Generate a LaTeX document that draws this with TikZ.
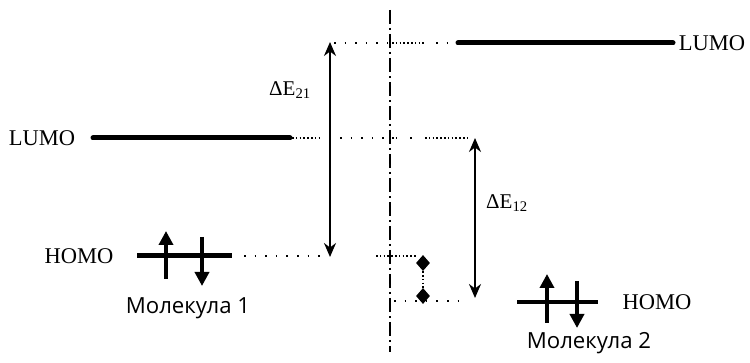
\documentclass[tikz,border=0pt]{standalone}
\usepackage{fontspec}
\setmainfont{Liberation Serif}
\newfontfamily\cyrfont{Open Sans}
\usetikzlibrary{arrows.meta,shapes.geometric}
\tikzset{
  level/.style={line width=5pt, line cap=round},
  elec/.style={line width=4.4pt, -{Triangle[length=14pt,width=14pt]}},
  gap/.style={line width=2pt, {Stealth[length=14pt,width=12pt]}-{Stealth[length=14pt,width=12pt]}},
  axis/.style={line width=2pt, dash pattern=on 14pt off 4pt on 2pt off 4pt},
  dense/.style={line width=1.6pt, dash pattern=on 1.6pt off 2.2pt},
  sparse/.style={line width=1.6pt, dash pattern=on 1.6pt off 9pt},
  lbl/.style={font=\fontsize{22.5}{26}\selectfont, inner sep=0pt},
  dlbl/.style={font=\fontsize{21}{25}\selectfont, inner sep=0pt},
  mol/.style={font=\cyrfont\fontsize{22.2}{26}\selectfont, inner sep=0pt},
  dia/.style={diamond, fill=black, inner sep=0pt, minimum width=14pt, minimum height=16pt}
}
\begin{document}
\begin{tikzpicture}[x=1pt,y=-1pt]
\useasboundingbox (0,0) rectangle (750,363);
% coordinates
\coordinate (L1a) at (93,138);  \coordinate (L1b) at (290,138);
\coordinate (L2a) at (458,43);  \coordinate (L2b) at (673,43);
\coordinate (H1a) at (137,256); \coordinate (H1b) at (232,256);
\coordinate (H2a) at (517,302); \coordinate (H2b) at (598,302);
\coordinate (Atop) at (390,10); \coordinate (Abot) at (390,352);
\coordinate (G1t) at (330,42);  \coordinate (G1b) at (330,257);
\coordinate (G2t) at (475,138); \coordinate (G2b) at (475,298);
% axis
\draw[axis] (Atop) -- (Abot);
% levels
\draw[level] (L1a) -- (L1b);
\draw[level] (L2a) -- (L2b);
\draw[level, line cap=butt] (H1a) -- (H1b);
\draw[level, line cap=butt, line width=4pt] (H2a) -- (H2b);
% labels
\node[lbl] (lumo1) at (42,138) {LUMO};
\node[lbl] (lumo2) at (712,43) {LUMO};
\node[lbl] (homo1) at (79,256) {HOMO};
\node[lbl] (homo2) at (657,302) {HOMO};
\node[dlbl] (de21) at (290,90) {ΔE\textsubscript{21}};
\node[dlbl] (de12) at (507,203) {ΔE\textsubscript{12}};
\node[mol] (m1) at (188,308) {Молекула 1};
\node[mol] (m2) at (589,343) {Молекула 2};
% electrons
\coordinate (e1s) at (166,279); \coordinate (e1e) at (166,231);
\coordinate (e2s) at (202,237); \coordinate (e2e) at (202,286);
\coordinate (e3s) at (547,323); \coordinate (e3e) at (547,274);
\coordinate (e4s) at (577,281); \coordinate (e4e) at (577,328);
\draw[elec] (e1s) -- (e1e);
\draw[elec] (e2s) -- (e2e);
\draw[elec] (e3s) -- (e3e);
\draw[elec] (e4s) -- (e4e);
% gaps
\draw[gap] (G1t) -- (G1b);
\draw[gap] (G2t) -- (G2b);
% dotted guides
\draw[sparse] (334,43) -- (388,43);
\draw[dense] (392,43) -- (426,43);
\draw[sparse] (436,43) -- (456,43);
\draw[dense] (292,138) -- (322,138);
\draw[sparse] (340,138) -- (388,138);
\draw[dense] (392,138) -- (398,138);
\draw[sparse] (410,138) -- (420,138);
\draw[dense] (425,138) -- (470,138);
\draw[sparse] (244,256) -- (326,256);
\draw[dense] (376,256) -- (416,256);
\draw[sparse] (394,301) -- (460,301);
% diamonds
\node[dia] (d1) at (423,263) {};
\node[dia] (d2) at (423,296) {};
\draw[dense] (d1) -- (d2);
\end{tikzpicture}
\end{document}
